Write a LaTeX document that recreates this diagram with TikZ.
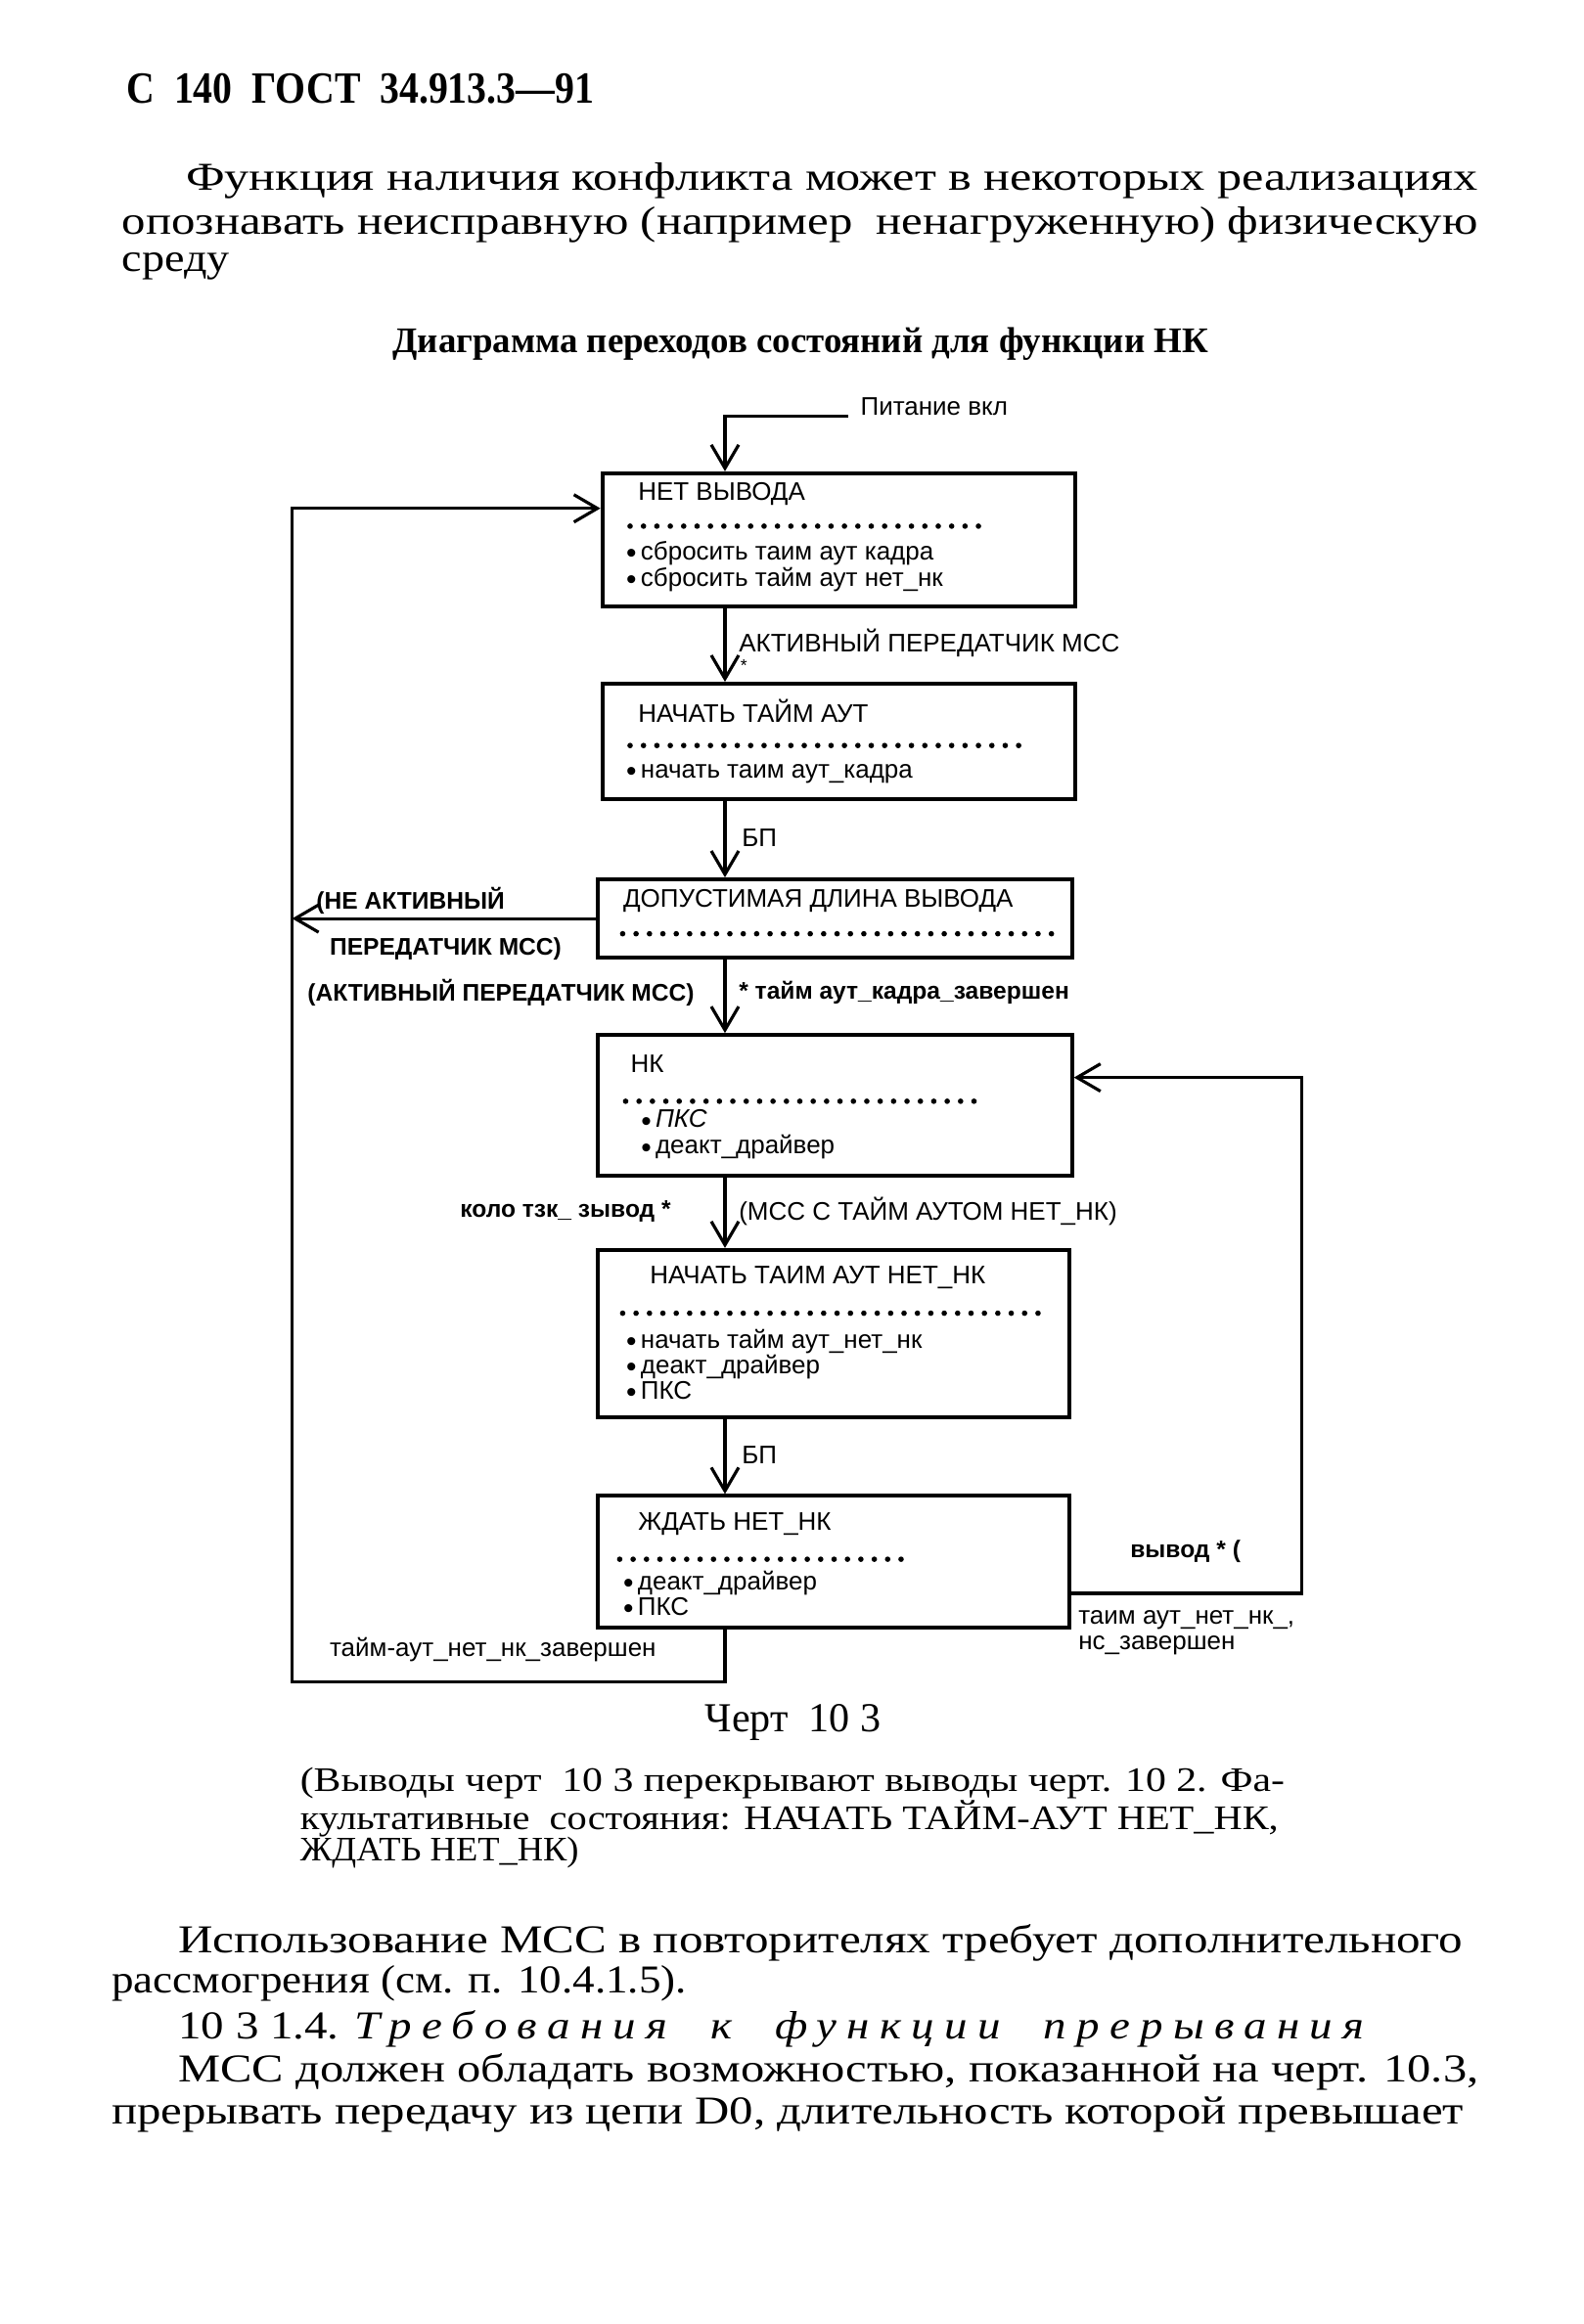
\documentclass[tikz,border=0pt]{standalone}
\usepackage{graphicx}
\usepackage{fontspec}
\setmainfont{Liberation Serif}
\newfontfamily\diafont{Liberation Sans}
\usetikzlibrary{arrows.meta}

\newcommand{\fitw}[2]{\resizebox{#1}{\height}{#2}}
\newcommand{\bul}{\raisebox{-0.25ex}{\fontsize{8.5}{7}\selectfont•}}

\tikzset{
  state/.style={draw, line width=1.1pt, inner sep=0pt, anchor=north west},
  txt/.style={anchor=west, inner sep=0pt, font=\diafont\fontsize{7.4}{8}\selectfont},
  btxt/.style={anchor=west, inner sep=0pt, font=\diafont\bfseries\fontsize{7}{8}\selectfont},
  sep/.style={line width=1.6pt, line cap=round, dash pattern=on 0pt off 3.9pt},
  arr/.style={-{Straight Barb[length=2.4mm,width=2.8mm]}, line width=0.9pt},
  prose/.style={anchor=west, inner sep=0pt, font=\fontsize{11.5}{13}\selectfont},
  capt/.style={anchor=west, inner sep=0pt, font=\fontsize{10}{12}\selectfont},
}

\begin{document}
\begin{tikzpicture}[x=0.01516cm, y=-0.01516cm]
\useasboundingbox (0,0) rectangle (1068,1568);

% page head and text above the chart
\node[anchor=west, inner sep=0pt, font=\bfseries\fontsize{13}{15}\selectfont] (head) at (85,60) {\fitw{4.78cm}{С\ \ 140\ \ ГОСТ\ \ 34.913.3—91}};
\node[prose] (p1a) at (125,122) {\fitw{13.22cm}{Функция наличия конфликта может в некоторых реализациях}};
\node[prose] (p1b) at (82,152) {\fitw{13.87cm}{опознавать неисправную (например\ \ ненагруженную) физическую}};
\node[prose] (p1c) at (82,180) {\fitw{1.1cm}{среду}};
\node[inner sep=0pt, font=\bfseries\fontsize{10.5}{12}\selectfont] (ttl) at (540,232) {Диаграмма переходов состояний для функции НК};

% states
\node[state, minimum width=4.836cm, minimum height=1.364cm] (b1) at (405,318) {};
\node[state, minimum width=4.836cm, minimum height=1.182cm] (b2) at (405,460) {};
\node[state, minimum width=4.851cm, minimum height=0.803cm] (b3) at (402,592) {};
\node[state, minimum width=4.851cm, minimum height=1.440cm] (b4) at (402,697) {};
\node[state, minimum width=4.821cm, minimum height=1.713cm] (b5) at (402,842) {};
\node[state, minimum width=4.821cm, minimum height=1.349cm] (b6) at (402,1008) {};

% state texts
\node[txt] (t1) at (430,333) {НЕТ ВЫВОДА};
\draw[sep] (425,355) -- (660,355);
\node[txt] (t1a) at (422,373) {\bul\,сбросить таим аут кадра};
\node[txt] (t1b) at (422,391) {\bul\,сбросить тайм аут нет\_нк};

\node[txt] (t2) at (430,480) {НАЧАТЬ ТАЙМ АУТ};
\draw[sep] (425,503) -- (688,503);
\node[txt] (t2a) at (422,522) {\bul\,начать таим аут\_кадра};

\node[txt] (t3) at (420,608) {ДОПУСТИМАЯ ДЛИНА ВЫВОДА};
\draw[sep] (420,630) -- (710,630);

\node[txt] (t4) at (425,718) {НК};
\draw[sep] (422,743) -- (662,743);
\node[txt] (t4a) at (432,756) {\bul\,\textit{ПКС}};
\node[txt] (t4b) at (432,774) {\bul\,деакт\_драйвер};

\node[txt] (t5) at (438,862) {НАЧАТЬ ТАИМ АУТ НЕТ\_НК};
\draw[sep] (420,886) -- (708,886);
\node[txt] (t5a) at (422,905) {\bul\,начать тайм аут\_нет\_нк};
\node[txt] (t5b) at (422,922) {\bul\,деакт\_драйвер};
\node[txt] (t5c) at (422,939) {\bul\,ПКС};

\node[txt] (t6) at (430,1028) {ЖДАТЬ НЕТ\_НК};
\draw[sep] (418,1052) -- (612,1052);
\node[txt] (t6a) at (420,1068) {\bul\,деакт\_драйвер};
\node[txt] (t6b) at (420,1085) {\bul\,ПКС};

% transitions
\coordinate (col) at (489,0);
\coordinate (lft) at (197,0);
\coordinate (rgt) at (878,0);
\coordinate (pin) at (572,281);
\coordinate (y343) at (0,343);
\coordinate (y727) at (0,727);
\coordinate (y1075) at (0,1075);
\coordinate (y1135) at (0,1135);

\node[txt] (pon) at (580,274) {Питание вкл};
\draw[arr] (pin) -- (pin -| col) -- (b1.north -| col);
\draw[arr] (b1.south -| col) -- (b2.north -| col);
\draw[arr] (b2.south -| col) -- (b3.north -| col);
\draw[arr] (b3.south -| col) -- (b4.north -| col);
\draw[arr] (b4.south -| col) -- (b5.north -| col);
\draw[arr] (b5.south -| col) -- (b6.north -| col);
\draw[arr] (b3.west) -- (b3.west -| lft);
\draw[arr] (b6.south -| col) -- (col |- y1135) -- (lft |- y1135) -- (lft |- y343) -- (b1.west |- y343);
\draw[arr] (b6.east |- y1075) -- (rgt |- y1075) -- (rgt |- y727) -- (b4.east |- y727);

% transition labels
\node[txt] (l12) at (498,434) {АКТИВНЫЙ ПЕРЕДАТЧИК МСС};
\node[txt, font=\diafont\fontsize{5}{6}\selectfont] (s12) at (499,449) {*};
\node[txt] (l23) at (500,565) {БП};
\node[btxt] (l3a) at (213,608) {(НЕ АКТИВНЫЙ};
\node[btxt] (l3b) at (222,640) {ПЕРЕДАТЧИК МСС)};
\node[btxt] (l34a) at (207,670) {(АКТИВНЫЙ ПЕРЕДАТЧИК МСС)};
\node[btxt] (l34b) at (498,670) {* тайм аут\_кадра\_завершен};
\node[btxt] (l45a) at (310,817) {коло тзк\_ зывод *};
\node[txt] (l45b) at (498,817) {(МСС С ТАЙМ АУТОМ НЕТ\_НК)};
\node[txt] (l56) at (500,982) {БП};
\node[btxt] (l64a) at (762,1047) {вывод * (};
\node[txt] (l64b) at (727,1093) {таим аут\_нет\_нк\_,};
\node[txt] (l64c) at (727,1110) {нс\_завершен};
\node[txt] (l61) at (222,1113) {тайм-аут\_нет\_нк\_завершен};

% caption and text below the chart
\node[inner sep=0pt, font=\fontsize{12}{14}\selectfont] (cap) at (535,1162) {Черт\ \ 10 3};
\node[capt] (c1) at (202,1203) {\fitw{10.07cm}{(Выводы черт\ \ 10 3 перекрывают выводы черт. 10 2. Фа-}};
\node[capt] (c2) at (202,1227) {\fitw{10.01cm}{культативные\ \ состояния: НАЧАТЬ ТАЙМ-АУТ НЕТ\_НК,}};
\node[capt] (c3) at (202,1250) {\fitw{2.85cm}{ЖДАТЬ НЕТ\_НК)}};

\node[prose] (p2a) at (120,1311) {\fitw{13.14cm}{Использование МСС в повторителях требует дополнительного}};
\node[prose] (p2b) at (75,1338) {\fitw{5.88cm}{рассмогрения (см. п. 10.4.1.5).}};
\node[prose] (p2c) at (120,1369) {\fitw{12.13cm}{10 3 1.4. {\itshape\addfontfeatures{LetterSpace=22}Требования\ \ к\ \ функции\ \ прерывания}}};
\node[prose] (p2d) at (120,1398) {\fitw{13.3cm}{МСС должен обладать возможностью, показанной на черт. 10.3,}};
\node[prose] (p2e) at (75,1427) {\fitw{13.83cm}{прерывать передачу из цепи D0, длительность которой превышает}};
\end{tikzpicture}
\end{document}
